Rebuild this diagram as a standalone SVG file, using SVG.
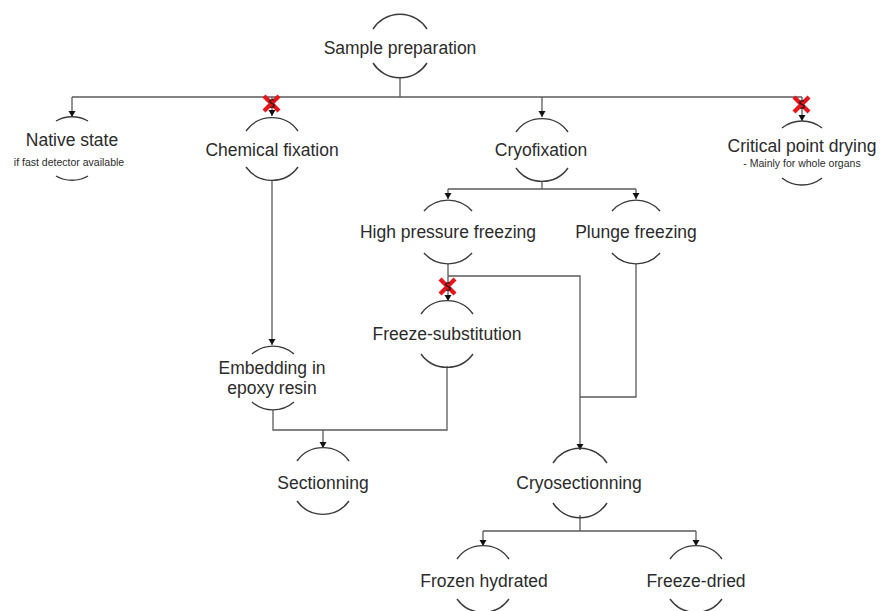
<svg xmlns="http://www.w3.org/2000/svg" width="880" height="611" viewBox="0 0 880 611">
<defs>
<style>
.arc{fill:none;stroke:#3a3a3a;stroke-width:1.4}
.lbl{font-family:"Liberation Sans",Arial,sans-serif;font-size:17.5px;fill:#2b2b2b;text-anchor:middle}
.sub{font-family:"Liberation Sans",Arial,sans-serif;font-size:10.5px;fill:#2b2b2b;text-anchor:middle}
.con{fill:none;stroke:#5a5a5a;stroke-width:1.3}
.arw{fill:none;stroke:#5a5a5a;stroke-width:1.3;marker-end:url(#ah)}
.x{stroke:#e8141a;stroke-width:4.2;stroke-linecap:butt}
.s{fill:none;stroke:#111;stroke-width:1.2}
</style>
<marker id="ah" markerUnits="userSpaceOnUse" markerWidth="8" markerHeight="8" refX="6" refY="3.5" orient="auto">
<path d="M0,0 L6,3.5 L0,7 Z" fill="#111"/>
</marker>
</defs>
<rect width="880" height="611" fill="#fff"/>

<g id="connectors">
<path class="con" d="M400 78 V97"/>
<path class="con" d="M72 97 H802"/>
<path class="arw" d="M72 97 V117"/>
<path class="arw" d="M272 97 V116"/>
<path class="arw" d="M542 97 V117"/>
<path class="arw" d="M802 97 V121"/>
<path class="arw" d="M272 181 V345"/>
<path class="con" d="M542 182 V189 M448 189 H636"/>
<path class="arw" d="M448 189 V199"/>
<path class="arw" d="M636 189 V199"/>
<path class="arw" d="M448 264 V301"/>
<path class="arw" d="M448 276 H580 V450"/>
<path class="con" d="M636 264 V397 H580"/>
<path class="con" d="M447 366 V430 H273 V410"/>
<path class="arw" d="M323 430 V448"/>
<path class="con" d="M580 515 V531 M483 531 H696"/>
<path class="arw" d="M483 531 V546"/>
<path class="arw" d="M696 531 V546"/>
</g>

<g id="blocked-chemical">
<line class="x" x1="264" y1="96" x2="279" y2="111"/><line class="x" x1="279" y1="96" x2="264" y2="111"/>
<path class="s" d="M274 100 C270 99 268 102 272 103.5 C276 105 274 108 270 107"/>
</g>
<g id="blocked-cpd">
<line class="x" x1="794" y1="97" x2="809" y2="112"/><line class="x" x1="809" y1="97" x2="794" y2="112"/>
<path class="s" d="M804 101 C800 100 798 103 802 104.5 C806 106 804 109 800 108"/>
</g>
<g id="blocked-fs">
<line class="x" x1="440" y1="279" x2="455" y2="294"/><line class="x" x1="455" y1="279" x2="440" y2="294"/>
<path class="s" d="M450 283 C446 282 444 285 448 286.5 C452 288 450 291 446 290"/>
</g>

<g id="sample-preparation">
<path class="arc" d="M373 29 A32 32 0 0 1 427 29"/>
<path class="arc" d="M373 63 A32 32 0 0 0 427 63"/>
<text class="lbl" x="400" y="54">Sample preparation</text>
</g>

<g id="native-state">
<path class="arc" d="M56 121 A32 32 0 0 1 88 121"/>
<path class="arc" d="M56 176 A32 32 0 0 0 88 176"/>
<text class="lbl" x="72" y="146">Native state</text>
<text class="sub" x="69" y="166">if fast detector available</text>
</g>

<g id="chemical-fixation">
<path class="arc" d="M246 131 A32 32 0 0 1 298 131"/>
<path class="arc" d="M246 167 A32 32 0 0 0 298 167"/>
<text class="lbl" x="272" y="156">Chemical fixation</text>
</g>

<g id="cryofixation">
<path class="arc" d="M516 132 A32 32 0 0 1 568 132"/>
<path class="arc" d="M516 168 A32 32 0 0 0 568 168"/>
<text class="lbl" x="541" y="156">Cryofixation</text>
</g>

<g id="critical-point-drying">
<path class="arc" d="M782 128 A32 32 0 0 1 822 128"/>
<path class="arc" d="M782 178 A32 32 0 0 0 822 178"/>
<text class="lbl" x="802" y="152">Critical point drying</text>
<text class="sub" x="802" y="167">- Mainly for whole organs</text>
</g>

<g id="high-pressure-freezing">
<path class="arc" d="M424 211 A32 32 0 0 1 472 211"/>
<path class="arc" d="M424 253 A32 32 0 0 0 472 253"/>
<text class="lbl" x="448" y="238">High pressure freezing</text>
</g>

<g id="plunge-freezing">
<path class="arc" d="M612 211 A32 32 0 0 1 660 211"/>
<path class="arc" d="M612 253 A32 32 0 0 0 660 253"/>
<text class="lbl" x="636" y="238">Plunge freezing</text>
</g>

<g id="freeze-substitution">
<path class="arc" d="M421 314 A32 32 0 0 1 473 314"/>
<path class="arc" d="M421 354 A32 32 0 0 0 473 354"/>
<text class="lbl" x="447" y="340">Freeze-substitution</text>
</g>

<g id="embedding">
<path class="arc" d="M252 354 A32 32 0 0 1 294 354"/>
<path class="arc" d="M252 402 A32 32 0 0 0 294 402"/>
<text class="lbl" x="272" y="374">Embedding in</text>
<text class="lbl" x="272" y="394">epoxy resin</text>
</g>

<g id="sectionning">
<path class="arc" d="M297 461 A32 32 0 0 1 349 461"/>
<path class="arc" d="M297 501 A32 32 0 0 0 349 501"/>
<text class="lbl" x="323" y="489">Sectionning</text>
</g>

<g id="cryosectionning">
<path class="arc" d="M553 463 A32 32 0 0 1 607 463"/>
<path class="arc" d="M553 503 A32 32 0 0 0 607 503"/>
<text class="lbl" x="579" y="489">Cryosectionning</text>
</g>

<g id="frozen-hydrated">
<path class="arc" d="M457 559 A32 32 0 0 1 509 559"/>
<path class="arc" d="M457 599 A32 32 0 0 0 509 599"/>
<text class="lbl" x="484" y="587">Frozen hydrated</text>
</g>

<g id="freeze-dried">
<path class="arc" d="M670 559 A32 32 0 0 1 722 559"/>
<path class="arc" d="M670 599 A32 32 0 0 0 722 599"/>
<text class="lbl" x="696" y="587">Freeze-dried</text>
</g>
</svg>
